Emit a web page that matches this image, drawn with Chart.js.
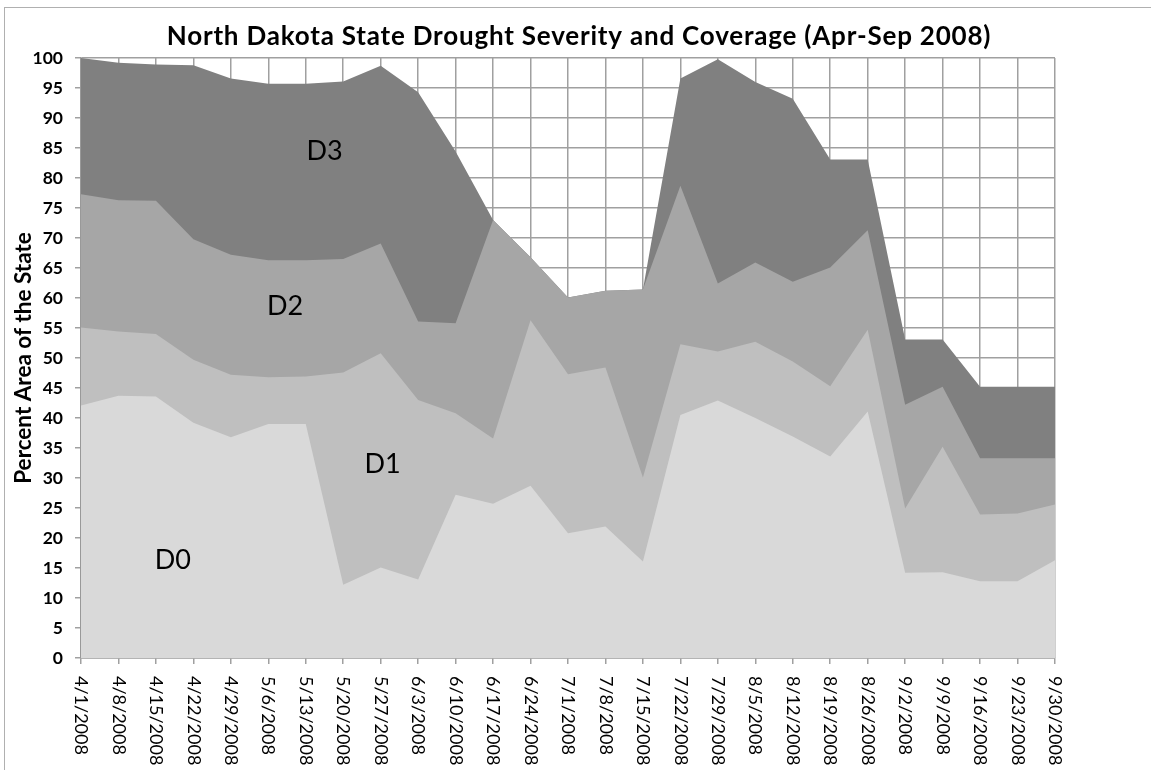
<!DOCTYPE html>
<html lang="en">
<head>
    <meta charset="UTF-8">
    <title>North Dakota State Drought Severity and Coverage</title>
    <script src="https://cdn.jsdelivr.net/npm/chart.js"></script>
    <style>
        body {
            margin: 0;
            background-color: #fff;
        }

        #chart-container {
            width: 1151px;
            height: 770px;
        }
    </style>
</head>
<body>

<div id="chart-container">
    <canvas id="droughtChart"></canvas>
</div>

<script>
    // weekly dates
    var dates = ['4/1/2008', '4/8/2008', '4/15/2008', '4/22/2008', '4/29/2008', '5/6/2008', '5/13/2008',
        '5/20/2008', '5/27/2008', '6/3/2008', '6/10/2008', '6/17/2008', '6/24/2008', '7/1/2008',
        '7/8/2008', '7/15/2008', '7/22/2008', '7/29/2008', '8/5/2008', '8/12/2008', '8/19/2008',
        '8/26/2008', '9/2/2008', '9/9/2008', '9/16/2008', '9/23/2008', '9/30/2008'];

    // top edge of each band (percent area of the state)
    var d0 = [42.1, 43.7, 43.6, 39.2, 36.8, 39.0, 39.0, 12.2, 15.1, 13.1, 27.2, 25.7, 28.7, 20.8,
        21.9, 16.1, 40.5, 42.9, 40.0, 36.9, 33.6, 41.1, 14.2, 14.3, 12.8, 12.8, 16.3];
    var d1 = [55.1, 54.4, 54.0, 49.7, 47.2, 46.8, 46.9, 47.6, 50.8, 43.0, 40.8, 36.6, 56.3, 47.3,
        48.4, 30.1, 52.3, 51.1, 52.7, 49.4, 45.3, 54.7, 24.9, 35.2, 23.9, 24.1, 25.6];
    var d2 = [77.3, 76.3, 76.2, 69.8, 67.2, 66.3, 66.3, 66.5, 69.1, 56.1, 55.8, 73.0, 66.8, 60.1,
        61.2, 61.4, 78.7, 62.4, 65.9, 62.7, 65.1, 71.3, 42.2, 45.2, 33.3, 33.3, 33.3];
    var d3 = [100, 99.2, 98.9, 98.8, 96.6, 95.7, 95.7, 96.1, 98.7, 94.3, 84.4, 73.0, 66.8, 60.1,
        61.2, 61.4, 96.6, 99.8, 96.0, 93.2, 83.1, 83.1, 53.1, 53.1, 45.2, 45.2, 45.2];

    var yTicks = [0, 5, 10, 15, 20, 25, 30, 35, 40, 45, 50, 55, 60, 65, 70, 75, 80, 85, 90, 95, 100];

    // band names and where they sit (category index, percent)
    var bandNames = ['D0', 'D1', 'D2', 'D3'];
    var bandSpots = [[2.45, 16.3], [8.05, 32.3], [5.45, 58.6], [6.5, 84.5]];

    var greys = ['#d9d9d9', '#bfbfbf', '#a6a6a6', '#808080'];

    var extras = {
        id: 'extras',
        beforeDraw: function (chart) {
            var ctx = chart.ctx;
            ctx.save();
            ctx.strokeStyle = '#b0b0b0';
            ctx.lineWidth = 1;
            ctx.strokeRect(4.5, 7.5, 1300, 900);
            ctx.restore();
        },
        afterDraw: function (chart) {
            var ctx = chart.ctx;
            var xs = chart.scales.x;
            var ys = chart.scales.y;
            ctx.save();

            // title
            ctx.fillStyle = '#000';
            ctx.font = 'bold 26px Lato';
            ctx.letterSpacing = '0.8px';
            ctx.textAlign = 'center';
            ctx.textBaseline = 'alphabetic';
            ctx.fillText('North Dakota State Drought Severity and Coverage (Apr-Sep 2008)', 579, 45);
            ctx.letterSpacing = '0px';

            // x labels, rotated clockwise
            ctx.font = '18px Lato';
            ctx.textAlign = 'left';
            ctx.textBaseline = 'middle';
            for (var i = 0; i < dates.length; i++) {
                ctx.save();
                ctx.translate(xs.getPixelForTick(i), ys.bottom + 18);
                ctx.rotate(Math.PI / 2);
                ctx.fillText(dates[i], 0, 0);
                ctx.restore();
            }

            // band labels
            ctx.font = '27px Lato';
            ctx.textAlign = 'center';
            for (var j = 0; j < bandNames.length; j++) {
                ctx.fillText(bandNames[j], xs.getPixelForValue(bandSpots[j][0]), ys.getPixelForValue(bandSpots[j][1]));
            }
            ctx.restore();
        }
    };

    function band(label, data, color) {
        return {
            label: label,
            data: data,
            backgroundColor: color,
            borderWidth: 0,
            pointRadius: 0,
            tension: 0,
            fill: 'origin'
        };
    }

    var ctx = document.getElementById('droughtChart').getContext('2d');
    var chart = new Chart(ctx, {
        type: 'line',
        data: {
            labels: dates,
            // first dataset is painted last, so the smallest band sits on top
            datasets: [
                band('D0', d0, greys[0]),
                band('D1', d1, greys[1]),
                band('D2', d2, greys[2]),
                band('D3', d3, greys[3])
            ]
        },
        options: {
            responsive: true,
            maintainAspectRatio: false,
            animation: false,
            layout: {
                padding: { top: 58, right: 96, bottom: 0, left: 0 }
            },
            plugins: {
                legend: { display: false },
                tooltip: { enabled: false }
            },
            scales: {
                x: {
                    offset: false,
                    ticks: { display: false },
                    grid: { color: '#a0a0a0', lineWidth: 1.5, tickLength: 6 },
                    border: { color: '#999', width: 1.5 },
                    afterFit: function (s) { s.height = 112; }
                },
                y: {
                    min: 0,
                    max: 100,
                    afterBuildTicks: function (s) {
                        s.ticks = yTicks.map(function (v) { return { value: v }; });
                    },
                    ticks: {
                        padding: 12,
                        color: '#000',
                        font: { family: 'Lato', size: 17.5, weight: 'bold' }
                    },
                    grid: { color: '#a0a0a0', lineWidth: 1.5, tickLength: 6 },
                    border: { color: '#999', width: 1.5 },
                    title: {
                        display: true,
                        text: 'Percent Area of the State',
                        color: '#000',
                        font: { family: 'Lato', size: 22.5, weight: 'bold' },
                        padding: { top: 10, bottom: 0 }
                    },
                    afterFit: function (s) { s.width = 81; }
                }
            }
        },
        plugins: [extras]
    });
</script>

</body>
</html>
